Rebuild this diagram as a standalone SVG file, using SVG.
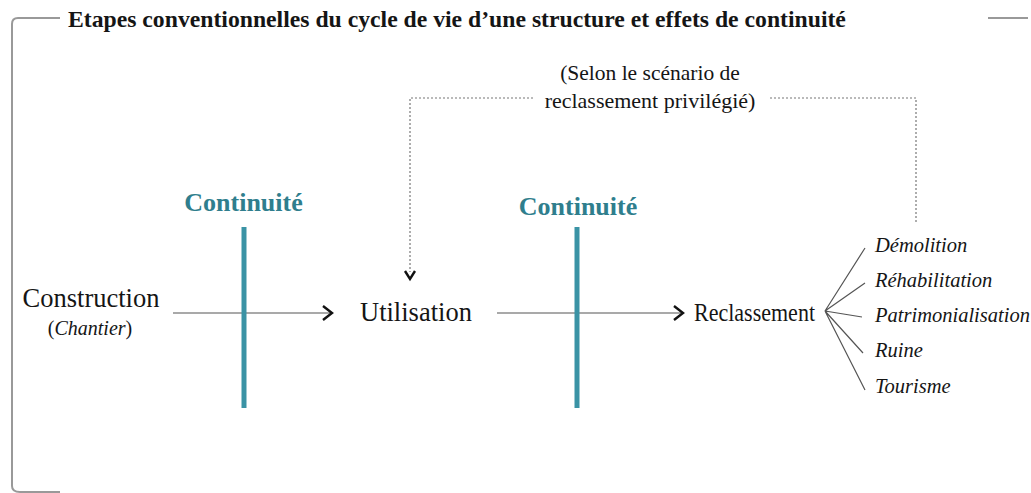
<svg xmlns="http://www.w3.org/2000/svg" width="1031" height="493" viewBox="0 0 1031 493">
<style>
.t{font-family:"Liberation Serif","Times New Roman",serif;fill:#151515}
.it{font-style:italic}
.cont{font-family:"Liberation Serif","Times New Roman",serif;font-weight:bold;font-size:26px;fill:#2f7e8d;text-anchor:middle}
.bar{stroke:#3a93a5;stroke-width:5}
.ln{stroke:#555;stroke-width:1.2;fill:none}
.dot{stroke:#777;stroke-width:1.2;stroke-dasharray:2 2;fill:none}
.frame{stroke:#999;stroke-width:2;fill:none}
.head{stroke:#111;stroke-width:2.4;fill:none}
</style>
<g id="frame">
<path class="frame" d="M60 18 H18 Q12 18 12 24 V486 Q12 492 20 492 H60"/>
<path class="frame" d="M988 18 H1028"/>
</g>
<text id="title" class="t" x="68" y="27" font-size="23.7" font-weight="bold">Etapes conventionnelles du cycle de vie d’une structure et effets de continuité</text>
<g id="connectors">
<path class="ln" d="M173 313 H330"/>
<path class="head" d="M323 306 L332 313 L323 320"/>
<path class="ln" d="M497 313 H681"/>
<path class="head" d="M674 306 L683 313 L674 320"/>
<path class="dot" d="M916 222 V98 H770"/>
<path class="dot" d="M533 98 H410 V272"/>
<path class="head" d="M405 271 L410 279 L415 271" stroke-width="2.2"/>
<path class="ln" d="M865 248 L825 311 L865 283 M825 311 L862 317 M825 311 L863 353 M825 311 L865 390"/>
</g>
<g id="continuite1">
<text class="cont" x="243.5" y="211">Continuité</text>
<line class="bar" x1="244" y1="227" x2="244" y2="408"/>
</g>
<g id="continuite2">
<text class="cont" x="578" y="215">Continuité</text>
<line class="bar" x1="577" y1="227" x2="577" y2="408"/>
</g>
<g id="construction">
<text class="t" x="91" y="307" font-size="26.5" text-anchor="middle">Construction</text>
<text class="t" x="90" y="335" font-size="20" text-anchor="middle">(<tspan class="it">Chantier</tspan>)</text>
</g>
<g id="utilisation">
<text class="t" x="360" y="321" font-size="26.5">Utilisation</text>
</g>
<g id="reclassement">
<text class="t" x="694" y="321" font-size="25" textLength="121" lengthAdjust="spacingAndGlyphs">Reclassement</text>
</g>
<g id="scenario">
<text class="t" x="650" y="80" font-size="21.5" text-anchor="middle">(Selon le scénario de</text>
<text class="t" x="650" y="108" font-size="22" text-anchor="middle">reclassement privilégié)</text>
</g>
<g id="options" class="t it" font-size="20.5">
<text x="875" y="252">Démolition</text>
<text x="875" y="287">Réhabilitation</text>
<text x="875" y="322">Patrimonialisation</text>
<text x="875" y="357">Ruine</text>
<text x="875" y="393">Tourisme</text>
</g>
</svg>
